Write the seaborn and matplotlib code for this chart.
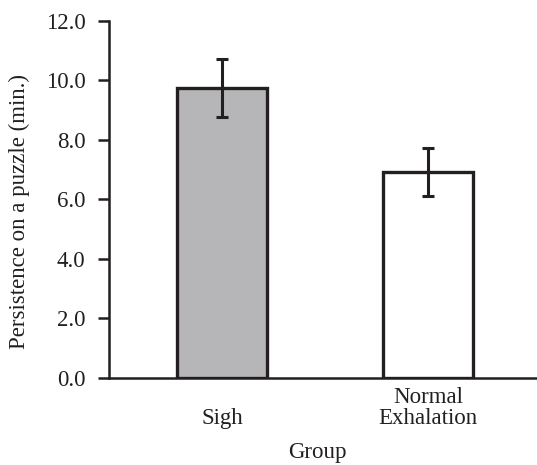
import numpy as np
import pandas as pd
import matplotlib
matplotlib.use('Agg')
import matplotlib.pyplot as plt
import seaborn as sns

groups = ['Sigh', 'Normal\nExhalation']
means = [9.75, 6.93]
errors = [0.98, 0.81]
bar_colors = ['#b5b6ba', '#ffffff']
y_ticks = [0.0, 2.0, 4.0, 6.0, 8.0, 10.0, 12.0]

sns.set_style('white')
plt.rcParams['font.family'] = ['Liberation Serif', 'DejaVu Serif']
ink = '#231f20'
fs = 16.5

df = pd.DataFrame({'Group': groups, 'Persistence': means})

fig = plt.figure(figsize=(5.37, 4.65), dpi=100)
ax = fig.add_axes([0.203, 0.187, 0.797, 0.7685])

sns.barplot(data=df, x='Group', y='Persistence', hue='Group', palette=bar_colors,
            errorbar=None, width=0.44, edgecolor=ink, linewidth=2.4,
            legend=False, ax=ax)
ax.errorbar(np.arange(len(groups)), means, yerr=errors, fmt='none',
            ecolor=ink, elinewidth=2.2, capsize=4, capthick=2.2)

ax.set_xlim(-0.55, 1.53)
ax.set_ylim(0, 12)
ax.set_yticks(y_ticks)
ax.set_yticklabels([f'{t:.1f}' for t in y_ticks])

for side in ['top', 'right']:
    ax.spines[side].set_visible(False)
for side in ['left', 'bottom']:
    ax.spines[side].set_linewidth(1.8)
    ax.spines[side].set_color(ink)

ax.tick_params(axis='y', which='major', left=True, length=8, width=1.8,
               color=ink, pad=9, labelsize=fs, labelcolor=ink)
ax.tick_params(axis='x', bottom=False, length=0, pad=37, labelsize=fs,
               labelcolor=ink)
for lbl in ax.get_xticklabels():
    lbl.set_verticalalignment('bottom')
    lbl.set_linespacing(1.05)

ax.set_ylabel('Persistence on a puzzle (min.)', fontsize=fs, color=ink)
ax.set_xlabel('Group', fontsize=fs, color=ink)
ax.yaxis.set_label_coords(-0.185, 0.465)
ax.xaxis.set_label_coords(0.486, -0.178)

fig.savefig('out.png', dpi=100)
